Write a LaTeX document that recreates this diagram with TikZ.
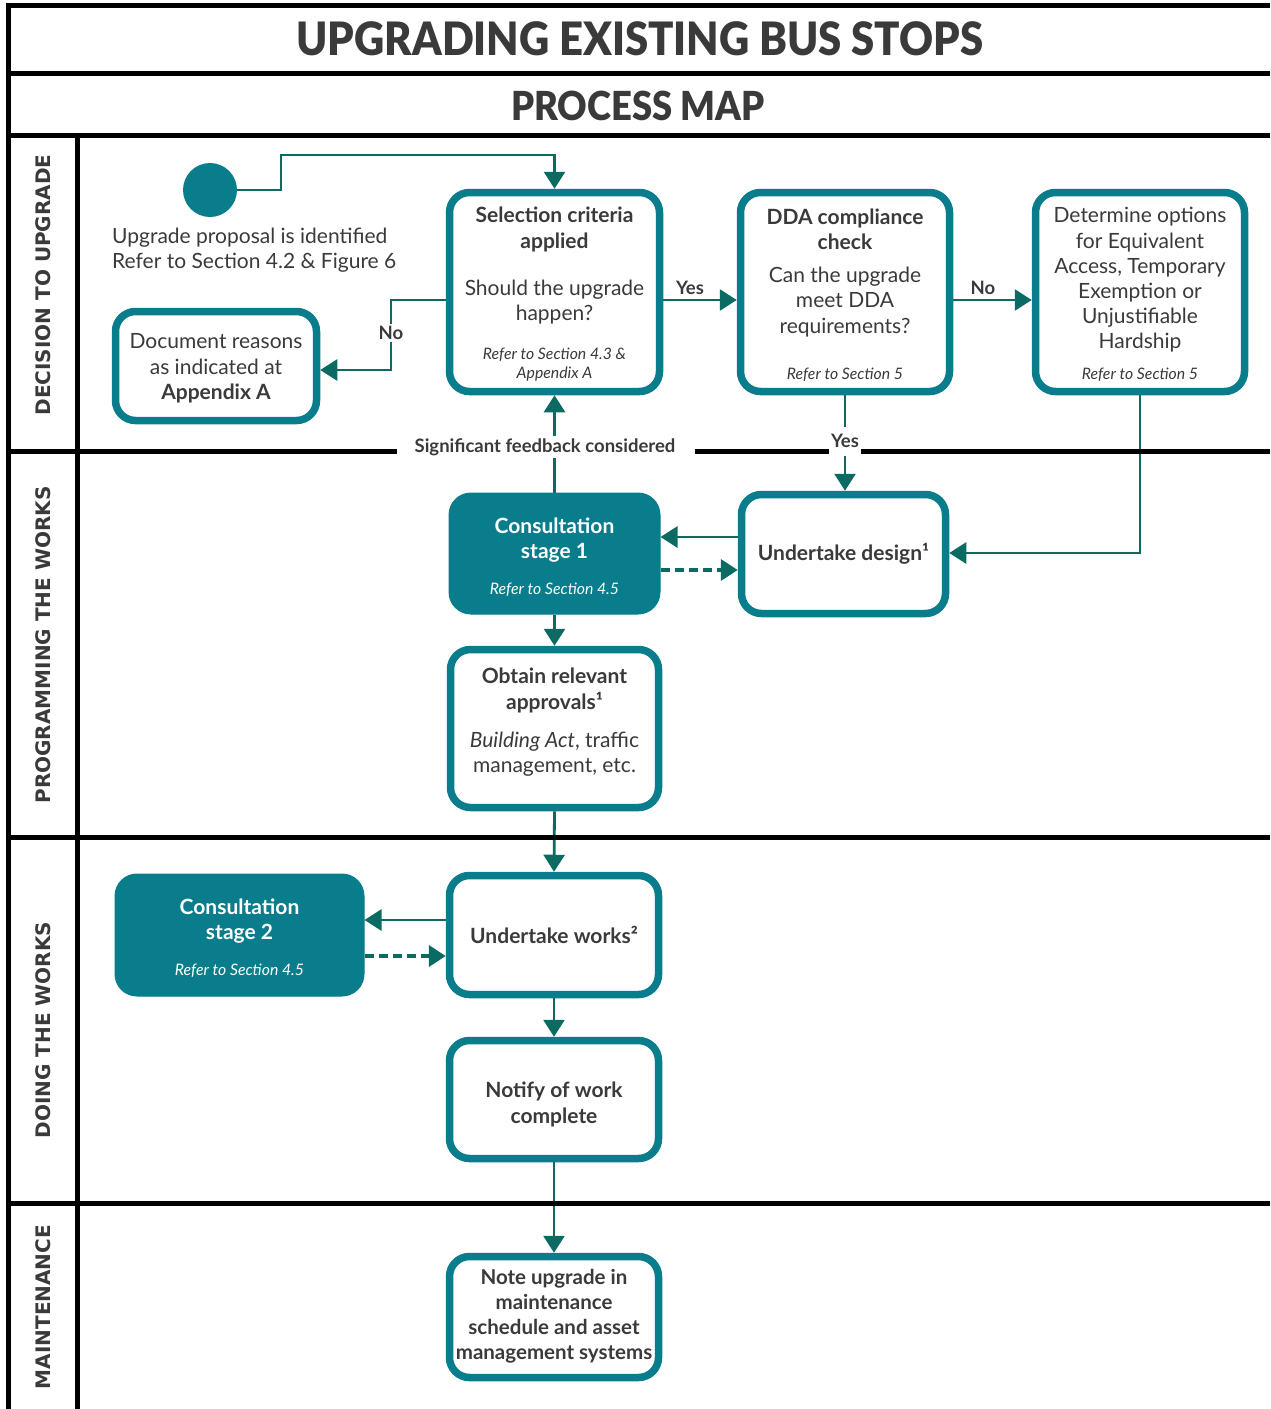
\documentclass[tikz,border=0pt]{standalone}
\usepackage{fontspec}
\setmainfont{Lato}
\newfontfamily\lanefont{DejaVu Sans}
\newfontfamily\headfont{Lato Black}
\usetikzlibrary{arrows.meta}
\definecolor{boxteal}{HTML}{0A7D8C}
\definecolor{arrowteal}{HTML}{0B6B63}
\definecolor{ink}{HTML}{3A3A3A}
\begin{document}
\begin{tikzpicture}[x=1pt,y=-1pt,
  box/.style={draw=boxteal, line width=7.5pt, rounded corners=20pt, fill=white, inner sep=0pt},
  fillbox/.style={draw=boxteal, fill=boxteal, line width=1pt, rounded corners=22pt, inner sep=0pt},
  txt/.style={text=ink, align=center, font=\fontsize{21}{25.5}\selectfont, inner sep=0pt},
  btxt/.style={txt, font=\fontsize{21}{25.5}\selectfont\bfseries},
  wtxt/.style={btxt, text=white},
  ref/.style={txt, font=\fontsize{15.8}{19}\selectfont\itshape},
  wref/.style={ref, text=white},
  lbl/.style={text=ink, font=\fontsize{18.5}{21}\selectfont\bfseries, inner sep=2pt},
  arr/.style={draw=arrowteal, line width=2.8pt, -{Triangle[length=17pt,width=21pt]}},
  dasharr/.style={arr, line width=3.8pt, dash pattern=on 9pt off 5pt},
  frame/.style={draw=black, line width=5pt},
  lane/.style={text=ink, font=\lanefont\bfseries\fontsize{20}{24}\selectfont, rotate=90, inner sep=0pt}
]
\useasboundingbox (0,0) rectangle (1270,1409);

% headings
\node[text=ink, font=\headfont\fontsize{46}{50}\selectfont, inner sep=0pt] (title) at (640,39) {\scalebox{0.91}[1]{UPGRADING EXISTING BUS STOPS}};
\node[text=ink, font=\headfont\fontsize{40}{44}\selectfont, inner sep=0pt] (sub) at (638,106) {\scalebox{0.91}[1]{PROCESS MAP}};

% lane names
\node[lane] (l1) at (43,285) {DECISION TO UPGRADE};
\node[lane] (l2) at (43,645) {PROGRAMMING THE WORKS};
\node[lane] (l3) at (43,1030) {DOING THE WORKS};
\node[lane] (l4) at (43,1307) {MAINTENANCE};

% start
\node[circle, fill=boxteal, minimum size=54pt, inner sep=0pt] (start) at (210,190) {};
\node[txt, align=left, anchor=west] (startT) at (112,250) {Upgrade proposal is identified\\Refer to Section 4.2 \& Figure 6};

% decision lane boxes
\node[box, minimum width=210pt, minimum height=199pt] (sel) at (554.5,292) {};
\node[btxt] (selA) at (554.5,229.5) {Selection criteria\\applied};
\node[txt] (selB) at (554.5,302) {Should the upgrade\\happen?};
\node[ref] (selC) at (554.5,365) {Refer to Section 4.3 \&\\Appendix A};

\node[box, minimum width=209pt, minimum height=199pt] (dda) at (845,292) {};
\node[btxt] (ddaA) at (845,229.5) {DDA compliance\\check};
\node[txt] (ddaB) at (845,302) {Can the upgrade\\meet DDA\\requirements?};
\node[ref] (ddaC) at (845,374.5) {Refer to Section 5};

\node[box, minimum width=209pt, minimum height=199pt] (det) at (1140,292) {};
\node[txt, font=\fontsize{21}{25.2}\selectfont] (detA) at (1140,280) {Determine options\\for Equivalent\\Access, Temporary\\Exemption or\\Unjustifiable\\Hardship};
\node[ref] (detC) at (1140,374.5) {Refer to Section 5};

\node[box, minimum width=201pt, minimum height=109pt] (doc) at (216,366) {};
\node[txt] (docA) at (216,368.5) {Document reasons\\as indicated at\\\textbf{Appendix A}};

% programming lane boxes
\node[fillbox, minimum width=211pt, minimum height=121pt] (con1) at (554.5,553.5) {};
\node[wtxt] (con1A) at (554.5,540) {Consultation\\stage 1};
\node[wref] (con1B) at (554.5,589.5) {Refer to Section 4.5};

\node[box, minimum width=204pt, minimum height=119pt] (des) at (843.5,554) {};
\node[btxt] (desA) at (843.5,553.5) {Undertake design¹};

\node[box, minimum width=208pt, minimum height=158pt] (obt) at (554.5,728.5) {};
\node[btxt] (obtA) at (554.5,690.5) {Obtain relevant\\approvals¹};
\node[txt] (obtB) at (554.5,754) {\textit{Building Act}, traffic\\management, etc.};

% doing lane boxes
\node[box, minimum width=209pt, minimum height=119pt] (wrk) at (554,935) {};
\node[btxt] (wrkA) at (554,934.5) {Undertake works²};

\node[fillbox, minimum width=249pt, minimum height=122pt] (con2) at (239.5,935) {};
\node[wtxt] (con2A) at (239.5,921) {Consultation\\stage 2};
\node[wref] (con2B) at (239.5,970.5) {Refer to Section 4.5};

\node[box, minimum width=209pt, minimum height=118pt] (ntf) at (554,1099.5) {};
\node[btxt] (ntfA) at (554,1104.5) {Notify of work\\complete};

% maintenance lane box
\node[box, minimum width=209pt, minimum height=121pt] (note) at (554,1317) {};
\node[btxt, font=\fontsize{20.5}{25}\selectfont\bfseries] (noteA) at (554,1316.5) {Note upgrade in\\maintenance\\schedule and asset\\management systems};

% connectors
\draw[arr] (start.east) -- (281,190) -- (281,155) -| (sel.north);
\draw[arr] (sel.west |- 0,300) -- (391,300) -- (391,370) -- (doc.east |- 0,370);
\node[lbl, fill=white] (no1) at (391,333) {No};
\draw[arr] (sel.east |- 0,300) -- (dda.west |- 0,300);
\node[lbl] (yes1) at (690,288) {Yes};
\draw[arr] (dda.east |- 0,300) -- (det.west |- 0,300);
\node[lbl] (no2) at (983,288) {No};
\draw[arr] (dda.south) -- (des.north -| dda.south);
\draw[arr] (det.south) -- (1140,553) -- (des.east |- 0,553);
\draw[arr] (des.west |- 0,537) -- (con1.east |- 0,537);
\draw[dasharr] (con1.east |- 0,570) -- (des.west |- 0,570);
\draw[arr] (con1.north) -- (sel.south);
\draw[arr] (con1.south) -- (obt.north);
\draw[arr] (obt.south) -- (wrk.north);
\draw[arr] (wrk.west |- 0,920) -- (con2.east |- 0,920);
\draw[dasharr] (con2.east |- 0,956) -- (wrk.west |- 0,956);
\draw[arr] (wrk.south) -- (ntf.north);
\draw[arr] (ntf.south) -- (note.north);

% table rules
\draw[frame] (8,1409) -- (8,5) -- (1270,5);
\draw[frame] (6,73) -- (1270,73);
\draw[frame] (6,135) -- (1270,135);
\draw[frame] (77,135) -- (77,1409);
\draw[frame] (6,451) -- (397,451);
\draw[frame] (695,451) -- (1270,451);
\draw[frame] (6,837) -- (1270,837);
\draw[frame] (6,1203) -- (1270,1203);

% labels sitting on the rules
\node[lbl, fill=white, inner ysep=0pt, minimum height=29pt] (yes2) at (845,441) {Yes};
\node[lbl, fill=white, inner xsep=0pt] (feed) at (545,447) {Significant feedback considered};
\end{tikzpicture}
\end{document}
